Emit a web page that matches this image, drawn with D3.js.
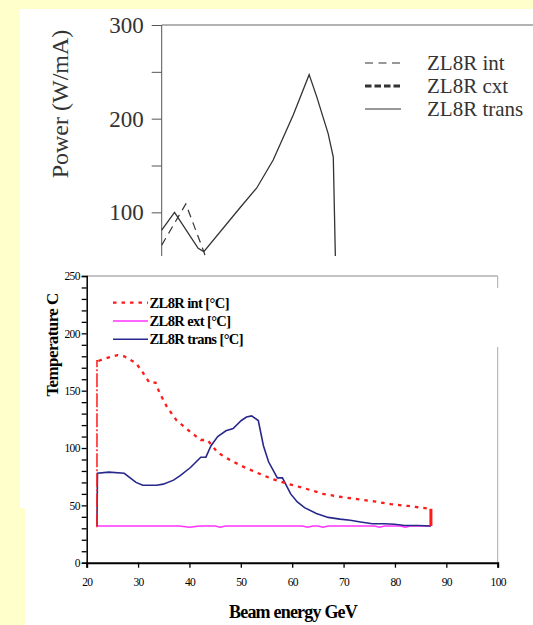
<!DOCTYPE html>
<html lang="en">
<head>
<meta charset="UTF-8">
<title>ZL8R power and temperature</title>
<style>
  body { margin: 0; background: #ffffcc; }
  svg { display: block; }
</style>
</head>
<body>
<div id="graph"></div>
<script src="https://d3js.org/d3.v7.min.js"></script>
<script>
// ---- data ----
// upper panel: power [W/mA] vs beam energy
var powerTrans = [[20, 81], [22.5, 100], [27.1, 61.6], [28.2, 58], [35.2, 104.6], [38.5, 126],
                  [41.7, 155.8], [45.6, 203.9], [48.7, 247], [50.2, 223], [52.4, 184], [53.4, 159], [54.0, 0]];
var powerInt = [[20, 65], [24.7, 109], [28.3, 56.5], [29.5, 30]];
var powerTicks = [100, 150, 200, 250, 300];
var powerLabels = [100, 200, 300];
var powerLegend = ["ZL8R int", "ZL8R cxt", "ZL8R trans"];

// lower panel: temperature [C] vs beam energy [GeV]
var intTemp = [[22.3, 176], [24.3, 179], [26.0, 181], [27.3, 180], [29.6, 174], [30.9, 166], [32.2, 157],
               [33.4, 157], [34.2, 148], [35.6, 136], [37.5, 124], [40.2, 114], [42.2, 107], [43.5, 107],
               [45.5, 96], [48.1, 89], [50.8, 83], [53.4, 78], [56.1, 73], [59.4, 68.5], [62.7, 64.5],
               [66.0, 60], [69.3, 57.5], [72.6, 55.5], [75.9, 53.5], [79.2, 51], [82.5, 49.5], [87, 47]];
var extTemp = [[22, 32], [38, 32], [40, 31], [42, 32], [45, 32], [46, 31], [47, 32], [62, 32], [63, 31],
               [64, 32], [65, 32], [66, 31], [67, 32], [76, 32], [77, 31], [78, 32], [81, 32], [82, 31],
               [83, 32], [87, 32]];
var transTemp = [[22, 32], [22.1, 78], [24.3, 79], [27.3, 78], [29.6, 70], [30.9, 67.5], [33.6, 67.5],
                 [34.9, 68.5], [36.9, 72], [38.2, 76], [40.2, 83], [42.2, 92], [43.2, 92], [44.2, 102],
                 [45.5, 110], [47.1, 115], [48.5, 117], [50.1, 124], [51.1, 127], [52.1, 128], [53.4, 124],
                 [54.4, 102], [55.4, 88], [57.1, 74], [58.1, 74], [59.7, 60], [61.0, 53], [62.4, 48],
                 [64.7, 43], [67.0, 39.5], [69.3, 38], [71.3, 37], [73.3, 35.5], [75.6, 34], [77.9, 34],
                 [79.9, 33.5], [81.9, 32.5], [84.5, 32.5], [87.0, 32]];
var intBase = 31;     // foot of the red end lines
var energyTicks = [20, 30, 40, 50, 60, 70, 80, 90, 100];
var tempTicks = d3.range(0, 251, 10);
var tempLegend = ["ZL8R int [°C]", "ZL8R ext [°C]", "ZL8R trans [°C]"];

var serif = "'Liberation Serif', 'DejaVu Serif', 'Times New Roman', serif";

// ---- page ----
var W = 533, H = 625;
var svg = d3.select("#graph").append("svg").attr("width", W).attr("height", H)
  .attr("font-family", serif);

svg.append("rect").attr("width", W).attr("height", H).attr("fill", "#ffffcc");
svg.append("rect").attr("x", 20).attr("y", 9).attr("width", W - 20).attr("height", 499).attr("fill", "#fff");
svg.append("rect").attr("x", 25).attr("y", 500).attr("width", W - 25).attr("height", 125).attr("fill", "#fff");

// ================= upper panel (cut off) =================
var px = d3.scaleLinear().domain([20, 100]).range([161.7, 572.7]);
var py = d3.scaleLinear().domain([0, 300]).range([306, 25]);

svg.append("clipPath").attr("id", "topclip")
  .append("rect").attr("x", 100).attr("y", 0).attr("width", W).attr("height", 256);

var upper = svg.append("g").attr("clip-path", "url(#topclip)");

upper.append("g")
  .attr("transform", "translate(" + px(20) + ",0)")
  .call(d3.axisLeft(py).tickValues(powerTicks).tickSize(10).tickPadding(8)
        .tickFormat(function(d) { return powerLabels.indexOf(d) >= 0 ? d : ""; }))
  .call(function(g) {
    g.attr("font-family", serif);
    g.select(".domain").remove();
    g.selectAll("line").attr("stroke", "#555");
    g.selectAll("text").attr("font-size", 23).attr("fill", "#333");
  });

upper.append("line")
  .attr("x1", px(20)).attr("x2", px(20)).attr("y1", py(300)).attr("y2", 300)
  .attr("stroke", "#555");
upper.append("line")
  .attr("x1", px(20)).attr("x2", W).attr("y1", py(300)).attr("y2", py(300))
  .attr("stroke", "#666");

var pline = d3.line().x(function(d) { return px(d[0]); }).y(function(d) { return py(d[1]); });

upper.append("path").datum(powerInt)
  .attr("d", pline).attr("fill", "none").attr("stroke", "#333")
  .attr("stroke-width", 1.2).attr("stroke-dasharray", "8,5.5");
upper.append("path").datum(powerTrans)
  .attr("d", pline).attr("fill", "none").attr("stroke", "#333").attr("stroke-width", 1.3);

svg.append("text")
  .attr("transform", "translate(68,104) rotate(-90)")
  .attr("text-anchor", "middle")
  .attr("font-size", 24).attr("fill", "#333")
  .text("Power (W/mA)");

var topKeys = [
  { dash: "8,5.5", w: 1.2 },
  { dash: "6.5,3", w: 3 },
  { dash: null, w: 1 }
];
var topLeg = svg.append("g");
powerLegend.forEach(function(name, i) {
  var yy = 63 + i * 23;
  topLeg.append("line")
    .attr("x1", 365).attr("x2", 401).attr("y1", yy).attr("y2", yy)
    .attr("stroke", "#333").attr("stroke-width", topKeys[i].w)
    .attr("stroke-dasharray", topKeys[i].dash);
  topLeg.append("text")
    .attr("x", 427).attr("y", yy).attr("dy", "0.35em")
    .attr("font-size", 21).attr("fill", "#333")
    .text(name);
});

// ================= lower panel =================
var x = d3.scaleLinear().domain([20, 100]).range([86.7, 497.7]);
var y = d3.scaleLinear().domain([0, 250]).range([562.7, 276]);

// plot frame (grey top and right edges)
svg.append("line").attr("x1", x(20)).attr("x2", x(100)).attr("y1", y(250)).attr("y2", y(250))
  .attr("stroke", "#888");
svg.append("line").attr("x1", x(100)).attr("x2", x(100)).attr("y1", y(250)).attr("y2", 288)
  .attr("stroke", "#aaa");
svg.append("line").attr("x1", x(100)).attr("x2", x(100)).attr("y1", 347).attr("y2", y(0))
  .attr("stroke", "#aaa");

svg.append("g")
  .attr("transform", "translate(" + x(20) + ",0)")
  .call(d3.axisLeft(y).tickValues(tempTicks).tickSize(5).tickPadding(2)
        .tickFormat(function(d) { return d % 50 === 0 ? d : ""; }))
  .call(function(g) {
    g.attr("font-family", serif);
    g.select(".domain").attr("stroke", "#000").attr("stroke-width", 1.5);
    g.selectAll("line").attr("stroke", "#000").attr("stroke-width", 1.3);
    g.selectAll("text").attr("font-size", 11.5).attr("letter-spacing", -0.7).attr("fill", "#000");
  });

svg.append("g")
  .attr("transform", "translate(0," + y(0) + ")")
  .call(d3.axisBottom(x).tickValues(energyTicks).tickSize(5).tickPadding(10))
  .call(function(g) {
    g.attr("font-family", serif);
    g.select(".domain").attr("stroke", "#000").attr("stroke-width", 2);
    g.selectAll("line").attr("stroke", "#000").attr("stroke-width", 1.3);
    g.selectAll("text").attr("font-size", 11.5).attr("letter-spacing", -0.7).attr("fill", "#000");
  });

var line = d3.line().x(function(d) { return x(d[0]); }).y(function(d) { return y(d[1]); });

var red = "#ff1a1a", magenta = "#ff33ff", navy = "#28288c";

svg.append("path").datum(extTemp)
  .attr("d", line).attr("fill", "none").attr("stroke", magenta).attr("stroke-width", 1.5);

svg.append("path").datum(transTemp)
  .attr("d", line).attr("fill", "none").attr("stroke", navy).attr("stroke-width", 1.6);

svg.append("path").datum(intTemp)
  .attr("d", line).attr("fill", "none").attr("stroke", red)
  .attr("stroke-width", 2.3).attr("stroke-dasharray", "3.5,5");

// red end lines of the int series
var first = intTemp[0], last = intTemp[intTemp.length - 1];
svg.append("path").datum([[22, intBase], [22, first[1]], first])
  .attr("d", line).attr("fill", "none").attr("stroke", red)
  .attr("stroke-width", 1.5).attr("stroke-dasharray", "14,2,2,2");
svg.append("path").datum([last, [last[0], 32]])
  .attr("d", line).attr("fill", "none").attr("stroke", red).attr("stroke-width", 3);

svg.append("text")
  .attr("transform", "translate(58,345) rotate(-90)")
  .attr("text-anchor", "middle")
  .attr("font-size", 17).attr("font-weight", "bold").attr("letter-spacing", -0.6)
  .text("Temperature C");

svg.append("text")
  .attr("x", 293).attr("y", 618)
  .attr("text-anchor", "middle")
  .attr("font-size", 18).attr("font-weight", "bold").attr("letter-spacing", -0.8)
  .text("Beam energy GeV");

var keys = [
  { c: red, dash: "3.5,5", w: 2.3 },
  { c: magenta, dash: null, w: 1.5 },
  { c: navy, dash: null, w: 1.6 }
];
var leg = svg.append("g");
tempLegend.forEach(function(name, i) {
  var yy = 302.7 + i * 18.3;
  leg.append("line")
    .attr("x1", 113).attr("x2", 148).attr("y1", yy).attr("y2", yy)
    .attr("stroke", keys[i].c).attr("stroke-width", keys[i].w)
    .attr("stroke-dasharray", keys[i].dash);
  leg.append("text")
    .attr("x", 149.5).attr("y", yy).attr("dy", "0.35em")
    .attr("font-size", 14.5).attr("font-weight", "bold").attr("letter-spacing", -0.6)
    .text(name);
});
</script>
</body>
</html>
